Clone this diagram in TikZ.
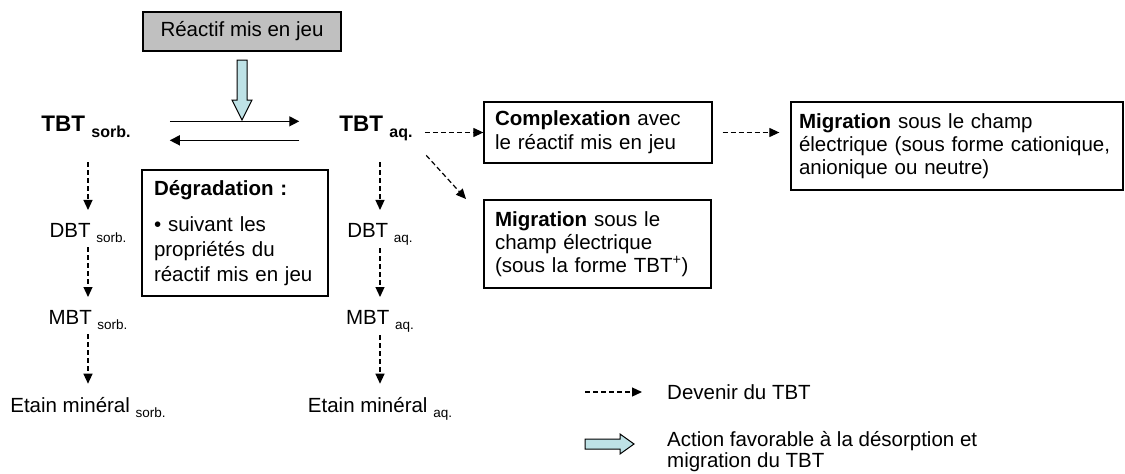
\documentclass[tikz,border=0pt]{standalone}
\usepackage{fontspec}
\setmainfont{Liberation Sans}
\usetikzlibrary{arrows.meta,calc}
\definecolor{grayfill}{RGB}{192,192,192}
\definecolor{paleblue}{RGB}{190,226,230}
\newcommand\lsub[1]{{\fontsize{13.5}{13.5}\selectfont\raisebox{-5pt}{#1}}}
\newcommand\bsub[1]{{\fontsize{16}{16}\selectfont\bfseries\raisebox{-6pt}{#1}}}
\begin{document}
\begin{tikzpicture}[x=1pt,y=-1pt,
  every node/.style={font=\fontsize{20.5}{23}\selectfont},
  box/.style={draw, line width=1.3pt, inner xsep=12pt, inner ysep=0pt, align=left},
  lab/.style={inner sep=0pt, anchor=base},
  flow/.style={line width=1.2pt, dash pattern=on 5pt off 3pt, -{Triangle[length=10pt,width=9pt]}},
  eq/.style={line width=1.3pt, -{Triangle[length=10pt,width=10pt]}},
  fat/.style={draw, line width=1pt, fill=paleblue, line join=miter}
]
\useasboundingbox (0,0) rectangle (1125,474);

% top reagent box
\node[box, fill=grayfill, minimum width=198pt, minimum height=39pt, align=center, inner xsep=0pt] (react) at (242,31.5) {Réactif mis en jeu};

% labels
\node[lab] (tbts) at (86,131) {\fontsize{22.5}{22.5}\selectfont\bfseries TBT \bsub{sorb.}};
\node[lab] (tbta) at (376,131) {\fontsize{22.5}{22.5}\selectfont\bfseries TBT \bsub{aq.}};
\node[lab] (dbts) at (88,237) {DBT \lsub{sorb.}};
\node[lab] (mbts) at (88,324) {MBT \lsub{sorb.}};
\node[lab] (etas) at (88,412) {Etain minéral \lsub{sorb.}};
\node[lab] (dbta) at (380,237) {DBT \lsub{aq.}};
\node[lab] (mbta) at (380,324) {MBT \lsub{aq.}};
\node[lab] (etaa) at (380,412) {Etain minéral \lsub{aq.}};

% boxes
\node[box, text width=162pt, minimum height=126pt, font=\fontsize{20.5}{25}\selectfont] (degr) at (235,233)
  {\textbf{Dégradation :}\\[11pt] • suivant les\\ propriétés du\\ réactif mis en jeu};
\node[box, text width=206pt, minimum height=61pt, inner xsep=11pt, font=\fontsize{20.5}{24}\selectfont] (compl) at (598,132.5)
  {\textbf{Complexation} avec\\ le réactif mis en jeu};
\node[box, text width=205pt, minimum height=88pt, inner xsep=11pt] (mig1) at (597.5,244)
  {\textbf{Migration} sous le\\ champ électrique\\ (sous la forme TBT\textsuperscript{+})};
\node[box, text width=316pt, minimum height=88pt, inner xsep=8pt] (mig2) at (957,146)
  {\textbf{Migration} sous le champ\\ électrique (sous forme cationique,\\ anionique ou neutre)};

% reagent action arrow
\draw[fat] (237,60) -- (247,60) -- (247,100) -- (252,100) -- (242,120) -- (232,100) -- (237,100) -- cycle;

% equilibrium arrows
\draw[eq, shorten <=39pt, shorten >=40pt] ([yshift=5pt]tbts.east) -- ([yshift=5pt]tbts.east -| tbta.west);
\draw[eq, shorten <=40pt, shorten >=39pt] ([yshift=-14pt]tbts.east -| tbta.west) -- ([yshift=-14pt]tbts.east);

% degradation chains
\draw[flow, shorten <=25pt, shorten >=12.7pt] (dbts |- tbts.south) -- (dbts);
\draw[flow, shorten <=5pt, shorten >=12.7pt] (dbts) -- (mbts);
\draw[flow, shorten <=5pt, shorten >=13pt] (mbts) -- (etas);
\draw[flow, shorten <=21.6pt, shorten >=12.7pt] (dbta |- tbta.south) -- (dbta);
\draw[flow, shorten <=3pt, shorten >=12.7pt] (dbta) -- (mbta);
\draw[flow, shorten <=3pt, shorten >=13pt] (mbta) -- (etaa);

% fate of aqueous TBT
\draw[flow, shorten <=12pt] (compl.west -| tbta.east) -- (compl.west);
\draw[flow, shorten <=10pt, shorten >=11pt] (compl.east) -- (compl.east -| mig2.west);
\coordinate (diagend) at (466,199);
\draw[flow, shorten <=20pt] (tbta.south east) -- (diagend);

% legend
\coordinate (l1s) at (585,392);
\node[anchor=west, inner sep=0pt] (leg1) at (667,392) {Devenir du TBT};
\draw[flow, shorten >=25pt] (l1s) -- (leg1);
\draw[fat] (585,439) -- (620,439) -- (620,434) -- (634,444) -- (620,454) -- (620,449) -- (585,449) -- cycle;
\node[anchor=north west, inner sep=0pt, align=left, font=\fontsize{20.5}{21}\selectfont] (leg2) at (667,431.5)
  {Action favorable à la désorption et\\ migration du TBT};
\end{tikzpicture}
\end{document}
